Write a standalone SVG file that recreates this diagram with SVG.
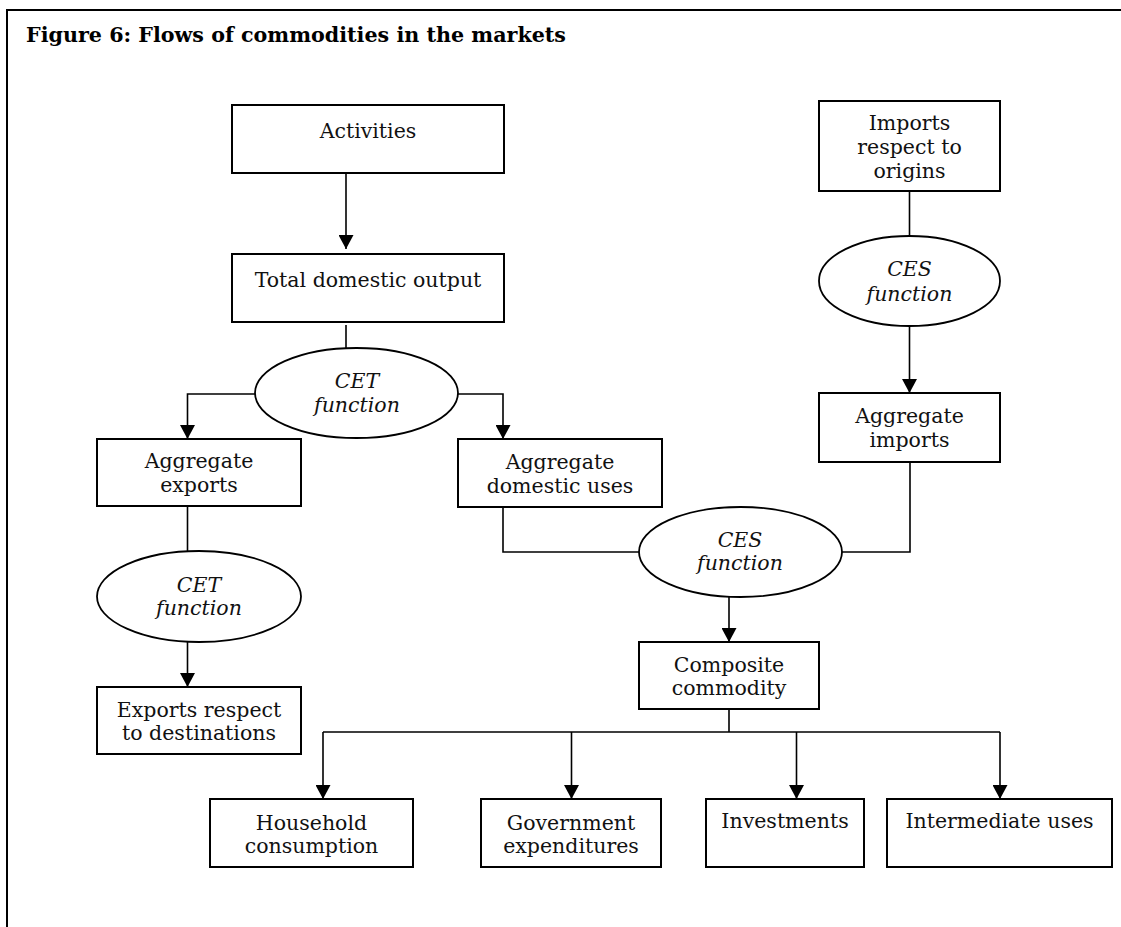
<svg xmlns="http://www.w3.org/2000/svg" width="1121" height="927" viewBox="0 0 1121 927">
<defs>
<style>
.box{fill:#fff;stroke:#000;stroke-width:2}
.ell{fill:#fff;stroke:#000;stroke-width:1.8}
.ln{fill:none;stroke:#000;stroke-width:1.6}
.t{font-family:"DejaVu Serif","Liberation Serif",serif;font-size:20.5px;fill:#111;text-anchor:middle}
.i{font-style:italic}
.title{font-family:"DejaVu Serif","Liberation Serif",serif;font-size:21px;font-weight:bold;fill:#000}
</style>
<marker id="ah" viewBox="0 0 14 15" refX="14" refY="7.5" markerWidth="14" markerHeight="15" markerUnits="userSpaceOnUse" orient="auto">
<path d="M0,0 L14,7.5 L0,15 z" fill="#000"/>
</marker>
</defs>
<rect width="1121" height="927" fill="#fff"/>
<path d="M7,927 V10 H1121" fill="none" stroke="#000" stroke-width="2"/>
<text class="title" x="26" y="42" textLength="540" lengthAdjust="spacingAndGlyphs">Figure 6: Flows of commodities in the markets</text>

<g id="connectors">
<path class="ln" d="M346,173 V249" marker-end="url(#ah)"/>
<path class="ln" d="M346,325 V348"/>
<path class="ln" d="M255,394 H187.5 V439" marker-end="url(#ah)"/>
<path class="ln" d="M458,394 H503 V439" marker-end="url(#ah)"/>
<path class="ln" d="M187.5,506 V551"/>
<path class="ln" d="M187.5,642 V687" marker-end="url(#ah)"/>
<path class="ln" d="M503,507 V552 H639"/>
<path class="ln" d="M842,552 H910 V462"/>
<path class="ln" d="M909.5,191 V236"/>
<path class="ln" d="M909.5,326 V393" marker-end="url(#ah)"/>
<path class="ln" d="M729,597 V642" marker-end="url(#ah)"/>
<path class="ln" d="M729,709 V732 M323,732 H1000"/>
<path class="ln" d="M323,732 V799" marker-end="url(#ah)"/>
<path class="ln" d="M571.5,732 V799" marker-end="url(#ah)"/>
<path class="ln" d="M796.5,732 V799" marker-end="url(#ah)"/>
<path class="ln" d="M1000,732 V799" marker-end="url(#ah)"/>
</g>

<g id="activities">
<rect class="box" x="232" y="105" width="272" height="68"/>
<text class="t" x="368" y="138">Activities</text>
</g>
<g id="total-domestic-output">
<rect class="box" x="232" y="254" width="272" height="68"/>
<text class="t" x="368" y="287">Total domestic output</text>
</g>
<g id="cet-top">
<ellipse class="ell" cx="356.5" cy="393" rx="101.5" ry="45"/>
<text class="t i" x="357" y="388">CET</text>
<text class="t i" x="357" y="412">function</text>
</g>
<g id="aggregate-exports">
<rect class="box" x="97" y="439" width="204" height="67"/>
<text class="t" x="199" y="468">Aggregate</text>
<text class="t" x="199" y="492">exports</text>
</g>
<g id="aggregate-domestic-uses">
<rect class="box" x="458" y="439" width="204" height="68"/>
<text class="t" x="560" y="469">Aggregate</text>
<text class="t" x="560" y="493">domestic uses</text>
</g>
<g id="cet-bottom">
<ellipse class="ell" cx="199" cy="596.5" rx="102" ry="45.5"/>
<text class="t i" x="199" y="592">CET</text>
<text class="t i" x="199" y="615">function</text>
</g>
<g id="exports-destinations">
<rect class="box" x="97" y="687" width="204" height="67"/>
<text class="t" x="199" y="717">Exports respect</text>
<text class="t" x="199" y="740">to destinations</text>
</g>
<g id="imports-origins">
<rect class="box" x="819" y="101" width="181" height="90"/>
<text class="t" x="909.5" y="130">Imports</text>
<text class="t" x="909.5" y="154">respect to</text>
<text class="t" x="909.5" y="178">origins</text>
</g>
<g id="ces-top">
<ellipse class="ell" cx="909.5" cy="281" rx="90.5" ry="45"/>
<text class="t i" x="909.5" y="276">CES</text>
<text class="t i" x="909.5" y="301">function</text>
</g>
<g id="aggregate-imports">
<rect class="box" x="819" y="393" width="181" height="69"/>
<text class="t" x="909.5" y="423">Aggregate</text>
<text class="t" x="909.5" y="447">imports</text>
</g>
<g id="ces-bottom">
<ellipse class="ell" cx="740.5" cy="552" rx="101.5" ry="45"/>
<text class="t i" x="740" y="547">CES</text>
<text class="t i" x="740" y="570">function</text>
</g>
<g id="composite-commodity">
<rect class="box" x="639" y="642" width="180" height="67"/>
<text class="t" x="729" y="672">Composite</text>
<text class="t" x="729" y="695">commodity</text>
</g>
<g id="household">
<rect class="box" x="210" y="799" width="203" height="68"/>
<text class="t" x="311.5" y="830">Household</text>
<text class="t" x="311.5" y="853">consumption</text>
</g>
<g id="government">
<rect class="box" x="481" y="799" width="180" height="68"/>
<text class="t" x="571" y="830">Government</text>
<text class="t" x="571" y="853">expenditures</text>
</g>
<g id="investments">
<rect class="box" x="706" y="799" width="158" height="68"/>
<text class="t" x="785" y="828">Investments</text>
</g>
<g id="intermediate">
<rect class="box" x="887" y="799" width="225" height="68"/>
<text class="t" x="999.5" y="828">Intermediate uses</text>
</g>
</svg>
